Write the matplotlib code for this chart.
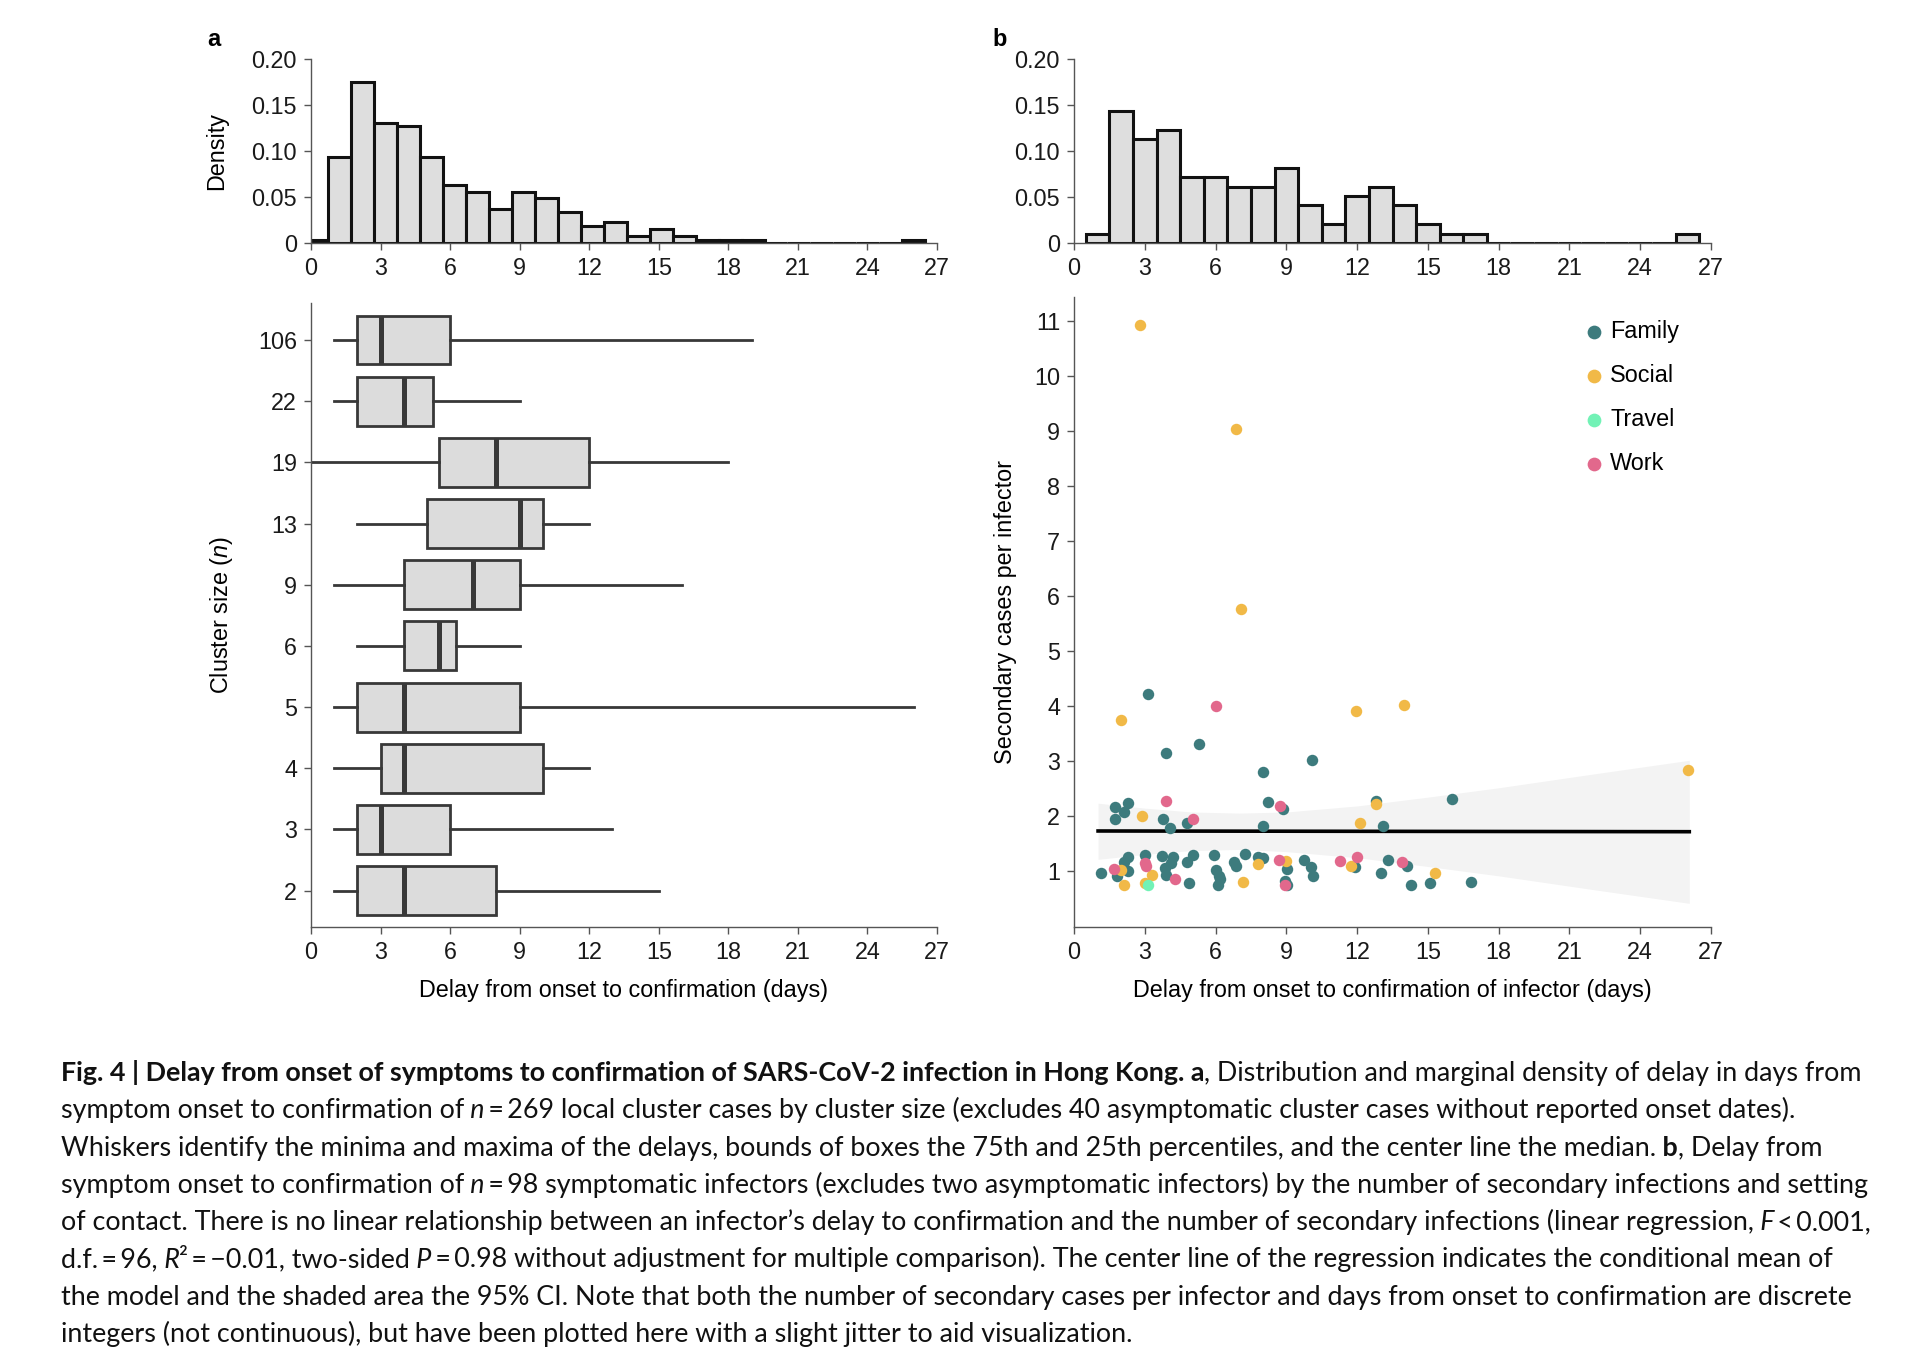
import numpy as np
import matplotlib
matplotlib.use("Agg")
import matplotlib.pyplot as plt
from matplotlib.transforms import IdentityTransform

plt.rcParams['font.family'] = ['Liberation Sans', 'DejaVu Sans']
plt.rcParams['mathtext.fontset'] = 'custom'
plt.rcParams['mathtext.rm'] = 'Liberation Sans'
plt.rcParams['mathtext.it'] = 'Liberation Sans:italic'

# ---- panel a histogram: counts per 1-day bin (n = 269)
a_n = 269
a_counts = [1, 25, 47, 35, 34, 25, 17, 15, 10, 15, 13, 9, 5, 6, 2, 4, 2, 1, 1, 1,
            0, 0, 0, 0, 0, 0, 1]
a_first_edge = -0.24
a_bin_width = 0.99

# ---- panel b histogram: counts per day (n = 98 infectors)
b_n = 98
b_days = list(range(1, 27))
b_counts = [1, 14, 11, 12, 7, 7, 6, 6, 8, 4, 2, 5, 6, 4, 2, 1, 1,
            0, 0, 0, 0, 0, 0, 0, 0, 1]

# ---- panel a box plots (bottom to top)
cluster_sizes = ['2', '3', '4', '5', '6', '9', '13', '19', '22', '106']
box_min = [1, 1, 1, 1, 2, 1, 2, 0, 1, 1]
box_q1 = [2, 2, 3, 2, 4, 4, 5, 5.5, 2, 2]
box_med = [4, 3, 4, 4, 5.5, 7, 9, 8, 4, 3]
box_q3 = [8, 6, 10, 9, 6.25, 9, 10, 12, 5.25, 6]
box_max = [15, 13, 12, 26, 9, 16, 12, 18, 9, 19]

# ---- panel b scatter (delay of infector, secondary cases), jittered as plotted
family_x = [3.89, 5.28, 8.01, 10.07, 1.73, 2.27, 2.10, 1.73, 3.77, 4.06, 4.79, 8.24,
            8.86, 8.01, 12.79, 13.10, 16.04, 3.14,
            1.13, 1.84, 2.27, 2.12, 2.27, 3.02, 3.75, 4.21, 4.11, 3.85, 3.89, 4.81,
            5.03, 4.86, 5.92, 6.02, 6.20, 6.09, 6.15, 6.77, 6.87, 7.25, 7.79, 8.00,
            9.03, 8.96, 9.03, 9.77, 10.03, 10.14, 11.89, 13.03, 13.31, 14.12, 14.30,
            15.09, 16.82]
family_y = [3.15, 3.30, 2.80, 3.01, 2.16, 2.23, 2.07, 1.94, 1.94, 1.78, 1.87, 2.25,
            2.12, 1.81, 2.27, 1.81, 2.30, 4.22,
            0.97, 0.91, 1.26, 1.17, 1.00, 1.29, 1.27, 1.25, 1.14, 1.06, 0.92, 1.17,
            1.29, 0.78, 1.29, 1.02, 0.85, 0.75, 0.90, 1.17, 1.09, 1.30, 1.26, 1.24,
            1.03, 0.82, 0.75, 1.20, 1.07, 0.90, 1.07, 0.97, 1.20, 1.09, 0.75,
            0.78, 0.80]
social_x = [2.87, 1.98, 2.12, 3.29, 3.02, 7.15, 7.79, 8.99, 11.72, 12.11, 12.82,
            15.29, 2.80, 6.88, 7.06, 1.98, 11.95, 14.00, 26.01]
social_y = [2.00, 1.02, 0.75, 0.93, 0.78, 0.79, 1.12, 1.18, 1.09, 1.87, 2.22,
            0.96, 10.93, 9.03, 5.76, 3.75, 3.90, 4.02, 2.83]
travel_x = [3.12]
travel_y = [0.75]
work_x = [3.89, 5.03, 8.74, 3.00, 3.04, 1.70, 4.29, 8.96, 8.71, 11.26, 12.01, 13.90, 6.03]
work_y = [2.27, 1.94, 2.18, 1.15, 1.08, 1.03, 0.85, 0.75, 1.20, 1.18, 1.26, 1.17, 4.00]

# regression line and 95% CI band
reg_x = [1.02, 26.08]
reg_y = [1.725, 1.712]
band_x = [1.02, 3, 5, 7, 9, 12, 15, 18, 22, 26.08]
band_hi = [2.23, 2.14, 2.07, 2.05, 2.07, 2.18, 2.34, 2.51, 2.76, 3.01]
band_lo = [1.21, 1.30, 1.37, 1.39, 1.35, 1.24, 1.08, 0.91, 0.66, 0.41]

setting_colors = {'Family': '#3d7b7d', 'Social': '#f1b947',
                  'Travel': '#72f2b6', 'Work': '#e2688c'}

x_ticks = list(range(0, 28, 3))
fs = 16.8
W, H = 1920, 1358
fig = plt.figure(figsize=(W / 100, H / 100), dpi=100)

def frac(left, top, right, bottom):
    return [left / W, 1 - bottom / H, (right - left) / W, (bottom - top) / H]

ax_ha = fig.add_axes(frac(311, 58.5, 937, 243))
ax_box = fig.add_axes(frac(311, 303.3, 937, 927.3))
ax_hb = fig.add_axes(frac(1074, 58.5, 1711, 243))
ax_sc = fig.add_axes(frac(1074, 297, 1711, 927))

spine_col = '#555555'
for ax in (ax_ha, ax_box, ax_hb, ax_sc):
    ax.spines['top'].set_visible(False)
    ax.spines['right'].set_visible(False)
    for s in ('left', 'bottom'):
        ax.spines[s].set_color(spine_col)
        ax.spines[s].set_linewidth(1.0)
    ax.tick_params(length=5, width=1.0, pad=5, labelsize=fs, color=spine_col,
                   labelcolor='#1a1a1a')
    ax.set_xlim(0, 27)
    ax.set_xticks(x_ticks)

# histogram a
a_edges = a_first_edge + a_bin_width * np.arange(len(a_counts))
a_dens = np.array(a_counts) / (a_n * 1.0)
ax_ha.bar(a_edges, a_dens, width=a_bin_width, align='edge', color='#dedede',
          edgecolor='#111111', linewidth=2.2)
ax_ha.set_ylim(0, 0.2)
ax_ha.set_yticks([0, 0.05, 0.10, 0.15, 0.20])
ax_ha.set_yticklabels(['0', '0.05', '0.10', '0.15', '0.20'])
ax_ha.set_ylabel('Density', fontsize=fs)
ax_ha.yaxis.set_label_coords(-0.132, 0.5)

# histogram b
b_dens = np.array(b_counts) / b_n
ax_hb.bar(b_days, b_dens, width=1.0, color='#dedede', edgecolor='#111111',
          linewidth=2.2)
ax_hb.set_ylim(0, 0.2)
ax_hb.set_yticks([0, 0.05, 0.10, 0.15, 0.20])
ax_hb.set_yticklabels(['0', '0.05', '0.10', '0.15', '0.20'])

# box plots
stats = []
for i, lab in enumerate(cluster_sizes):
    stats.append(dict(label=lab, whislo=box_min[i], q1=box_q1[i], med=box_med[i],
                      q3=box_q3[i], whishi=box_max[i], fliers=[]))
positions = np.arange(1, len(cluster_sizes) + 1)
ax_box.bxp(stats, positions=positions, widths=0.8, orientation='horizontal',
           patch_artist=True, showcaps=False, showfliers=False,
           boxprops=dict(facecolor='#dcdcdc', edgecolor='#383838', linewidth=2.0),
           whiskerprops=dict(color='#383838', linewidth=2.0),
           medianprops=dict(color='#383838', linewidth=3.6))
ax_box.set_ylim(0.4, 10.6)
ax_box.set_yticks(positions)
ax_box.set_yticklabels(cluster_sizes)
ax_box.set_xlim(0, 27)
ax_box.set_xticks(x_ticks)
ax_box.set_ylabel('Cluster size ($n$)', fontsize=fs)
ax_box.yaxis.set_label_coords(-0.122, 0.5)
ax_box.set_xlabel('Delay from onset to confirmation (days)', fontsize=fs)
ax_box.xaxis.set_label_coords(0.5, -0.083)

# scatter b
ax_sc.fill_between(band_x, band_lo, band_hi, color='#f3f3f3', linewidth=0, zorder=1)
ax_sc.plot(reg_x, reg_y, color='black', linewidth=2.6, zorder=2)
groups = [('Family', family_x, family_y), ('Social', social_x, social_y),
          ('Travel', travel_x, travel_y), ('Work', work_x, work_y)]
for name, gx, gy in groups:
    ax_sc.scatter(gx, gy, s=68, color=setting_colors[name], linewidths=0,
                  label=name, zorder=3)
ax_sc.set_ylim(-0.02, 11.43)
ax_sc.set_yticks(range(1, 12))
ax_sc.set_xlabel('Delay from onset to confirmation of infector (days)', fontsize=fs)
ax_sc.xaxis.set_label_coords(0.5, -0.082)
ax_sc.set_ylabel('Secondary cases per infector', fontsize=fs)
ax_sc.yaxis.set_label_coords(-0.09, 0.5)
ax_sc.legend(loc='upper left', bbox_to_anchor=(1584.4 / W, 1 - 320 / H),
             bbox_transform=fig.transFigure, frameon=False, fontsize=fs,
             markerscale=1.2, handlelength=0.8, handletextpad=0.3,
             labelspacing=0.9, borderpad=0, borderaxespad=0)

fig.text(214 / W, 1 - 40 / H, 'a', fontsize=17, fontweight='bold', ha='center', va='center')
fig.text(1000 / W, 1 - 40 / H, 'b', fontsize=17, fontweight='bold', ha='center', va='center')

# caption, drawn piece by piece so bold and italic runs line up
cap_font = ['Lato', 'DejaVu Sans']
cap_size = 19.35
R, B, I = ('normal', 'normal'), ('bold', 'normal'), ('normal', 'italic')
caption_lines = [
    [('Fig. 4 | Delay from onset of symptoms to confirmation of SARS-CoV-2 infection in Hong Kong. a', B),
     (', Distribution and marginal density of delay in days from', R)],
    [('symptom onset to confirmation of', R), (' n', I),
     ('\u2009=\u2009269 local cluster cases by cluster size (excludes 40 asymptomatic cluster cases without reported onset dates).', R)],
    [('Whiskers identify the minima and maxima of the delays, bounds of boxes the 75th and 25th percentiles, and the center line the median.', R),
     (' b', B), (', Delay from', R)],
    [('symptom onset to confirmation of', R), (' n', I),
     ('\u2009=\u200998 symptomatic infectors (excludes two asymptomatic infectors) by the number of secondary infections and setting', R)],
    [('of contact. There is no linear relationship between an infector\u2019s delay to confirmation and the number of secondary infections (linear regression,', R),
     (' F', I), ('\u2009<\u20090.001,', R)],
    [('d.f.\u2009=\u200996,', R), (' R', I), ('\u00b2\u2009=\u2009\u22120.01, two-sided', R), (' P', I),
     ('\u2009=\u20090.98 without adjustment for multiple comparison). The center line of the regression indicates the conditional mean of', R)],
    [('the model and the shaded area the 95% CI. Note that both the number of secondary cases per infector and days from onset to confirmation are discrete', R)],
    [('integers (not continuous), but have been plotted here with a slight jitter to aid visualization.', R)],
]
renderer = fig.canvas.get_renderer()
base_y = H - 1081
line_step = 37.3
for k, segs in enumerate(caption_lines):
    x = 61.0
    y = base_y - k * line_step
    for txt, (wt, st) in segs:
        t = fig.text(x, y, txt, transform=IdentityTransform(), fontsize=cap_size,
                     fontweight=wt, fontstyle=st, family=cap_font,
                     ha='left', va='baseline', color='#111111')
        x = t.get_window_extent(renderer).x1

fig.savefig('out.png', dpi=100)
